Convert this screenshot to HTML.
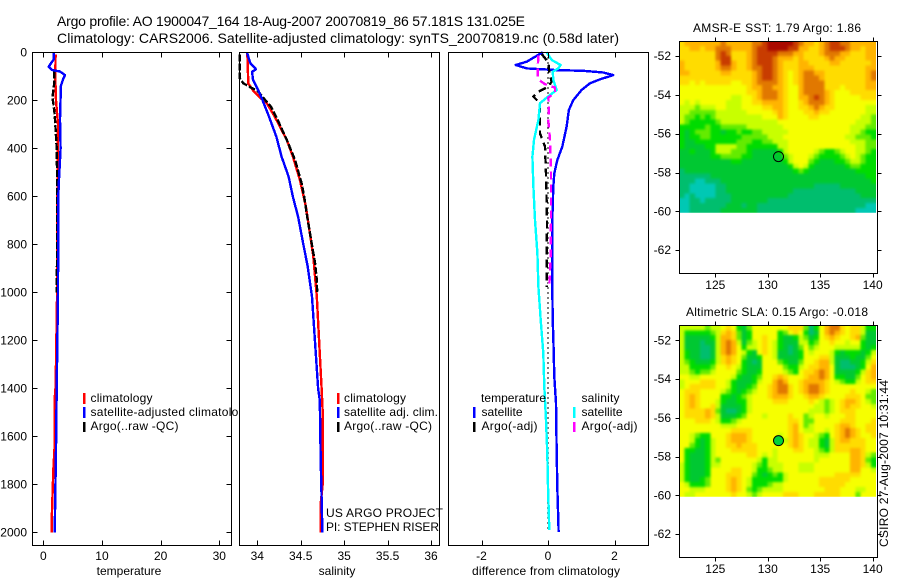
<!DOCTYPE html>
<html lang="en">
<head>
<meta charset="utf-8">
<title>Argo profile chart</title>
<style>
  html, body { margin: 0; padding: 0; background: #fff; }
  svg { display: block; font-family: "Liberation Sans", sans-serif; font-size: 12px; fill: #000; }
  .title { font-size: 14px; }
  .frame { fill: none; stroke: #000; stroke-width: 1; shape-rendering: crispEdges; }
  .bg { fill: #fff; stroke: none; }
  .tick { stroke: #000; stroke-width: 1; shape-rendering: crispEdges; }
  .line { fill: none; stroke-width: 2.4; shape-rendering: crispEdges; stroke-linejoin: round; }
  .cell { shape-rendering: crispEdges; }
</style>
</head>
<body>
<svg id="chart" xmlns="http://www.w3.org/2000/svg" width="900" height="580" viewBox="0 0 900 580">
  <defs>
    <filter id="soften" x="-5%" y="-5%" width="110%" height="110%" color-interpolation-filters="sRGB">
      <feGaussianBlur in="SourceGraphic" stdDeviation="1.3" result="blurred"/>
      <feMerge>
        <feMergeNode in="SourceGraphic"/>
        <feMergeNode in="blurred"/>
      </feMerge>
    </filter>
    <clipPath id="clip-sst"><rect x="679.5" y="41.5" width="196.5" height="171.2"/></clipPath>
    <clipPath id="clip-sla"><rect x="679.5" y="325.5" width="196.5" height="171.2"/></clipPath>
  </defs>
  <rect class="bg" x="0" y="0" width="900" height="580"/>
  <text class="title" x="57" y="26" textLength="468">Argo profile: AO 1900047_164 18-Aug-2007 20070819_86 57.181S 131.025E</text>
  <text class="title" x="57" y="43" textLength="562">Climatology: CARS2006. Satellite-adjusted climatology: synTS_20070819.nc (0.58d later)</text>

  <g id="panel-t">
    <rect class="bg" x="32" y="52" width="199" height="493"/>
    <g id="marks-t"></g>
    <rect class="frame" x="32.5" y="52.5" width="199" height="493"/>
    <g id="ticks-t"></g>
    <text x="129" y="575" text-anchor="middle">temperature</text>
    <g>
      <rect x="83" y="393" width="2.5" height="11" fill="#ff0000"/>
      <text x="90.5" y="402" textLength="62">climatology</text>
      <rect x="83" y="407" width="2.5" height="11" fill="#0000ff"/>
      <text x="90.5" y="416" textLength="161">satellite-adjusted climatology</text>
      <rect x="83" y="422" width="2.5" height="10" fill="#000"/>
      <text x="90.5" y="430" textLength="88">Argo(..raw -QC)</text>
    </g>
  </g>

  <g id="panel-s">
    <rect class="bg" x="240" y="52" width="199" height="493"/>
    <g id="marks-s"></g>
    <rect class="frame" x="239.5" y="52.5" width="200" height="493"/>
    <g id="ticks-s"></g>
    <text x="337" y="575" text-anchor="middle">salinity</text>
    <g>
      <rect x="337" y="393" width="2.5" height="11" fill="#ff0000"/>
      <text x="344" y="402" textLength="62">climatology</text>
      <rect x="337" y="407" width="2.5" height="11" fill="#0000ff"/>
      <text x="344" y="416" textLength="94">satellite adj. clim.</text>
      <rect x="337" y="422" width="2.5" height="10" fill="#000"/>
      <text x="344" y="430" textLength="88">Argo(..raw -QC)</text>
    </g>
    <text x="326" y="517" textLength="117">US ARGO PROJECT</text>
    <text x="326" y="531" textLength="113">PI: STEPHEN RISER</text>
  </g>

  <g id="panel-d">
    <rect class="bg" x="449" y="52" width="199" height="493"/>
    <g id="marks-d"></g>
    <rect class="frame" x="448.5" y="52.5" width="200" height="493"/>
    <g id="ticks-d"></g>
    <text x="472" y="575" textLength="148">difference from climatology</text>
    <g>
      <text x="481" y="402" textLength="65">temperature</text>
      <rect x="473" y="407" width="2.5" height="11" fill="#0000ff"/>
      <text x="481.5" y="416" textLength="41">satellite</text>
      <rect x="473" y="422" width="2.5" height="10" fill="#000"/>
      <text x="481.5" y="430" textLength="56">Argo(-adj)</text>
      <text x="581.5" y="402" textLength="38">salinity</text>
      <rect x="573" y="407" width="2.5" height="11" fill="#00ffff"/>
      <text x="581.5" y="416" textLength="41">satellite</text>
      <rect x="573" y="422" width="2.5" height="10" fill="#ff00ff"/>
      <text x="581.5" y="430" textLength="56">Argo(-adj)</text>
    </g>
  </g>

  <g id="map-sst">
    <text x="693" y="32" textLength="168">AMSR-E SST: 1.79 Argo: 1.86</text>
    <g clip-path="url(#clip-sst)">
      <g id="cells-sst" filter="url(#soften)"></g>
    </g>
    <rect class="frame" x="679.5" y="41.5" width="198" height="232"/>
    <g id="ticks-sst"></g>
    <circle id="pt-sst" r="5" fill="none" stroke="#000" stroke-width="1"/>
  </g>

  <g id="map-sla">
    <text x="686" y="316" textLength="182">Altimetric SLA: 0.15 Argo: -0.018</text>
    <g clip-path="url(#clip-sla)">
      <g id="cells-sla" filter="url(#soften)"></g>
    </g>
    <rect class="frame" x="679.5" y="325.5" width="198" height="232"/>
    <g id="ticks-sla"></g>
    <circle id="pt-sla" r="5" fill="#00d23c" stroke="#000" stroke-width="1"/>
  </g>

  <text transform="translate(888 547) rotate(-90)" textLength="167">CSIRO 27-Aug-2007 10:31:44</text>
</svg>

<script>
// Axis tick labels
var depthTicks = [0, 200, 400, 600, 800, 1000, 1200, 1400, 1600, 1800, 2000];
var tempTicks = [0, 10, 20, 30];
var salTicks = [34, 34.5, 35, 35.5, 36];
var salTickLabels = ['34', '34.5', '35', '35.5', '36'];
var diffTicks = [-2, 0, 2];
var lonTicks = [125, 130, 135, 140];
var latTicks = [-52, -54, -56, -58, -60, -62];

// Temperature profiles
var tempClimDepth = [10, 100, 200, 300, 500, 600, 1000, 1400, 1410, 1680, 1700, 1820, 1940, 2000];
var tempClimValues = [2.1, 2.05, 2.16, 2.5, 2.45, 2.4, 2.35, 2.1, 2.0, 1.9, 1.77, 1.6, 1.45, 1.43];
var tempSatDepth = [0, 30, 50, 60, 72, 75, 80, 95, 110, 140, 280, 400, 520, 600, 1000, 1400, 1650, 2000];
var tempSatValues = [1.82, 1.75, 1.2, 0.92, 1.4, 1.7, 2.85, 3.7, 3.4, 3.0, 2.85, 2.95, 2.7, 2.55, 2.5, 2.28, 2.17, 1.94];
var tempArgoDepth = [80, 130, 170, 190, 210, 260, 300, 400, 600, 800, 1000];
var tempArgoValues = [1.87, 1.85, 1.65, 1.55, 1.7, 1.95, 2.05, 2.28, 2.4, 2.35, 2.3];

// Salinity profiles
var salClimDepth = [0, 129, 157, 185, 213, 268, 365, 435, 532, 643, 740, 851, 1018, 1400, 1500, 1800, 1880, 2000];
var salClimValues = [33.885, 33.896, 33.947, 34.02, 34.11, 34.2, 34.34, 34.41, 34.49, 34.56, 34.6, 34.645, 34.685, 34.74, 34.753, 34.753, 34.73, 34.73];
var salSatDepth = [0, 46, 60, 71, 81, 115, 157, 199, 268, 352, 435, 518, 602, 685, 782, 893, 1018, 1400, 1450, 1700, 2000];
var salSatValues = [33.88, 33.92, 33.96, 33.985, 33.94, 33.95, 34.01, 34.06, 34.135, 34.22, 34.28, 34.36, 34.41, 34.47, 34.52, 34.58, 34.63, 34.70, 34.72, 34.73, 34.75];
var salArgoDepth = [10, 110, 129, 146, 163, 190, 226, 282, 365, 449, 546, 602, 685, 782, 879, 949, 1005];
var salArgoValues = [33.80, 33.80, 33.84, 33.92, 34.01, 34.07, 34.155, 34.235, 34.34, 34.435, 34.51, 34.54, 34.575, 34.62, 34.665, 34.685, 34.69];

// Differences from climatology
var diffTempSatDepth = [0, 39, 53, 67, 74, 77, 84, 95, 113, 129, 157, 199, 240, 310, 393, 449, 504, 560, 699, 977, 1115, 1185, 1352, 1462, 1643, 1810, 1949, 1998];
var diffTempSatValues = [-0.16, -0.64, -0.97, -0.64, 0.26, 1.06, 1.66, 1.96, 1.56, 1.26, 1.01, 0.76, 0.63, 0.56, 0.43, 0.28, 0.19, 0.16, 0.13, 0.13, 0.14, 0.16, 0.19, 0.24, 0.26, 0.28, 0.31, 0.32];
var diffSalSatDepth = [0, 32, 53, 67, 81, 115, 157, 178, 212, 282, 365, 435, 560, 699, 838, 977, 1115, 1254, 1393, 1532, 1671, 1810, 1990];
var diffSalSatValues = [-0.04, 0.11, 0.38, 0.31, 0.14, 0.16, 0.26, 0.06, -0.24, -0.29, -0.42, -0.47, -0.44, -0.39, -0.32, -0.29, -0.22, -0.14, -0.11, -0.06, -0.02, 0, 0.04];
var diffTempArgoDepth = [7, 42, 84, 122, 143, 164, 185, 212, 282, 338, 393, 504, 699, 977];
var diffTempArgoValues = [-0.19, 0.01, 0.04, 0.11, 0.01, -0.29, -0.44, -0.24, -0.24, -0.24, -0.09, -0.06, -0.03, -0.04];
var diffSalArgoDepth = [14, 63, 112, 133, 147, 168, 189, 224, 282, 365, 504, 699, 838, 977];
var diffSalArgoValues = [-0.29, -0.31, -0.3, -0.09, 0.21, 0.21, 0.01, 0.03, 0.01, 0.06, 0.09, 0.09, 0.08, 0.04];
var zeroLineDepth = [0, 2000];
var zeroLineValues = [0, 0];

// Profile location
var profileLon = 131.025;
var profileLat = -57.181;

// SST heatmap: colour level per cell, north to south, west to east
var sstGrid = [
[7,8,8,8,8,8,8,8,9,8,8,8,8,8,9,9,10,11,11,11,11,11,10,9,8,8,7,8,9,10,10,9,9,8,8,8,8,8],
[7,7,8,8,7,8,8,9,9,9,8,8,8,8,9,10,10,11,11,11,11,10,10,8,8,7,7,8,9,10,10,10,9,8,8,7,8,8],
[7,7,7,7,7,7,7,9,10,9,7,7,7,8,9,10,10,10,10,9,9,9,8,8,7,7,7,8,9,9,9,8,8,7,7,7,8,8],
[7,7,7,7,7,7,7,9,10,10,7,7,7,8,9,10,10,10,9,8,8,8,7,8,7,7,7,7,8,9,8,8,7,7,7,7,8,8],
[8,7,7,7,7,7,7,8,10,10,8,7,7,8,9,10,10,10,9,8,7,7,7,8,8,7,7,7,7,8,8,7,7,7,7,7,7,8],
[8,7,7,7,7,7,7,8,9,9,8,7,7,8,9,9,10,10,9,8,7,7,7,8,8,8,7,7,7,7,7,7,7,7,7,7,8,8],
[8,8,7,7,7,7,7,7,8,8,7,7,7,7,8,9,10,10,9,8,7,6,7,8,9,9,8,8,7,7,7,7,7,7,7,7,8,9],
[7,7,7,7,7,7,7,7,7,7,7,7,7,7,8,9,10,10,9,8,7,6,7,8,9,9,9,8,7,7,7,7,7,7,7,7,8,9],
[7,7,6,7,6,7,7,7,7,7,6,6,7,7,8,9,9,9,9,8,7,6,7,8,9,9,9,9,7,7,7,7,7,7,7,7,8,8],
[6,6,6,6,6,6,6,6,6,6,6,6,6,7,8,8,9,9,8,8,7,6,6,8,9,9,9,9,7,7,7,6,7,7,7,7,8,8],
[6,6,6,6,6,6,6,6,6,6,6,6,6,7,7,8,9,9,9,8,7,6,6,8,9,9,9,9,8,7,6,6,6,7,7,7,7,7],
[6,6,6,6,6,6,6,6,6,6,5,5,6,6,7,8,9,9,9,8,7,6,6,8,8,9,10,9,8,7,6,6,6,6,6,7,7,7],
[6,5,6,5,6,6,6,6,6,5,5,5,6,6,7,7,8,8,8,8,7,6,6,7,8,9,9,9,8,7,6,6,6,6,6,6,6,6],
[5,5,5,4,5,5,5,6,6,5,5,5,6,6,6,6,7,7,8,8,7,6,6,7,7,8,9,8,7,7,6,6,6,6,6,6,5,5],
[5,5,4,4,4,4,4,5,5,5,5,5,5,6,6,6,6,6,7,8,7,6,6,6,7,7,8,7,7,6,6,6,6,6,6,6,5,5],
[5,4,4,3,4,3,4,5,5,5,5,5,5,5,5,5,6,6,6,8,7,6,6,6,6,7,7,6,6,6,6,6,6,6,6,5,5,4],
[5,4,3,3,3,3,3,4,5,5,5,5,5,5,5,5,5,5,5,6,6,6,6,6,6,6,6,6,6,6,6,6,6,6,5,5,5,4],
[3,3,3,3,3,4,3,3,4,4,4,4,4,5,5,5,5,5,5,5,6,6,6,6,6,6,6,6,6,6,6,6,6,5,5,5,4,4],
[3,2,3,4,4,4,3,3,2,3,3,4,3,3,4,4,5,5,5,5,5,6,6,6,6,6,6,6,6,6,6,6,6,5,5,4,3,3],
[3,2,3,3,4,4,3,3,3,3,3,3,4,4,4,4,4,5,5,5,6,6,6,6,6,6,6,6,6,6,6,6,5,5,4,4,4,3],
[3,2,2,3,3,3,3,3,3,3,3,4,4,4,3,3,4,4,5,5,5,6,6,6,6,6,6,6,6,6,6,6,6,5,5,5,4,4],
[3,2,2,2,2,3,3,5,5,5,5,4,4,3,3,3,3,3,3,5,5,6,6,6,6,6,6,6,6,6,6,6,6,6,5,5,4,4],
[2,2,3,2,2,2,3,5,5,5,4,4,4,3,2,2,2,2,2,3,5,6,6,6,6,6,5,4,3,3,4,5,6,6,5,5,4,3],
[2,2,2,2,2,2,3,3,4,4,4,4,3,3,2,2,2,2,2,2,4,5,6,6,6,5,4,3,3,3,3,4,5,6,5,4,3,3],
[2,2,2,2,2,2,2,2,2,2,3,3,2,2,2,2,2,2,2,2,3,5,6,6,6,4,3,2,2,2,3,3,4,5,5,4,3,3],
[2,2,2,2,2,2,2,2,2,2,2,2,2,2,2,2,2,2,2,2,2,3,5,6,5,3,2,2,2,2,2,2,3,4,4,3,3,3],
[1,2,2,2,2,2,2,2,2,2,2,2,2,2,2,2,2,2,2,2,2,2,3,4,3,2,2,2,2,2,2,2,2,2,3,3,3,3],
[1,1,1,1,1,1,2,2,2,2,2,2,2,2,2,2,2,2,2,2,2,2,2,2,2,2,2,2,2,2,2,2,2,2,2,2,3,3],
[1,1,1,0,0,1,1,1,2,2,2,2,2,2,2,2,2,2,2,2,2,2,2,2,2,2,2,2,2,2,2,2,2,2,2,2,2,3],
[1,1,0,0,0,0,0,1,1,2,2,2,2,2,2,2,2,2,2,2,2,2,2,2,2,2,1,1,1,1,1,2,2,2,2,2,2,2],
[1,1,0,0,0,0,0,1,1,2,2,2,2,2,2,2,2,2,2,2,2,2,1,1,1,1,1,1,1,1,1,1,1,1,2,2,2,2],
[1,0,1,0,0,0,0,1,1,1,2,2,2,2,2,2,2,2,2,2,2,1,1,1,1,1,1,1,1,1,1,1,1,1,1,2,2,2],
[0,0,1,1,0,1,1,1,1,1,2,2,2,2,2,2,2,1,1,1,1,1,1,1,1,1,1,1,1,1,1,1,1,1,1,1,1,1],
[0,0,1,1,1,1,1,1,1,2,2,2,1,2,2,1,1,1,1,1,1,1,1,1,1,1,1,1,1,1,1,1,1,1,1,1,0,0],
[0,0,1,1,1,1,1,1,2,2,2,2,2,2,2,1,1,1,1,1,1,1,1,1,1,1,1,1,1,1,1,1,1,1,0,0,0,0]
];

// Sea level anomaly heatmap: colour level per cell
var slaGrid = [
[5,5,5,5,5,4,5,5,6,7,6,3,2,4,6,6,6,6,6,6,6,7,7,7,4,1,3,6,8,9,9,7,6,7,7,5,3,3],
[5,3,3,3,3,3,4,5,7,8,7,4,2,3,6,6,6,6,6,3,4,6,7,6,3,1,2,6,8,9,8,7,6,7,7,5,2,2],
[5,2,2,2,2,2,3,5,8,8,7,4,2,3,6,6,7,6,6,3,2,2,3,5,4,2,3,6,7,8,7,6,6,7,8,4,2,2],
[5,2,2,2,1,2,2,5,8,9,8,5,2,4,5,6,7,6,5,3,2,2,2,5,5,3,4,6,6,7,6,6,5,6,6,3,2,2],
[5,2,2,2,1,1,2,5,8,9,8,6,3,5,5,6,7,6,5,3,2,1,2,4,6,4,5,6,6,6,5,5,5,5,5,3,2,3],
[5,3,2,2,1,1,2,5,8,9,8,6,5,3,2,6,7,6,5,2,2,1,2,3,6,5,6,6,6,5,3,2,3,3,3,2,3,5],
[5,3,2,2,1,1,2,5,7,8,7,6,4,2,2,3,6,6,5,2,2,2,2,3,6,6,6,7,7,5,2,2,2,3,2,2,4,6],
[5,4,3,2,2,2,3,5,7,8,7,6,3,2,1,2,6,6,6,4,3,2,2,4,6,6,7,8,8,5,2,1,1,2,2,3,5,7],
[5,5,3,3,3,3,4,6,6,7,6,5,3,2,2,2,6,6,6,6,4,3,3,5,6,7,7,8,8,6,2,1,1,1,2,3,6,8],
[5,5,4,3,4,4,5,6,6,6,6,4,3,2,2,3,6,6,6,6,5,4,3,6,7,7,8,9,8,6,2,2,2,2,3,5,7,8],
[6,6,5,5,6,6,6,6,6,6,5,3,2,2,3,4,6,6,7,8,7,6,6,6,7,8,8,9,8,6,3,3,2,2,4,6,7,8],
[5,6,6,6,7,7,7,6,6,5,3,2,2,2,3,5,6,6,8,9,8,6,6,7,8,8,8,8,7,6,5,4,3,3,5,6,7,7],
[5,6,7,7,7,7,7,6,6,5,3,2,2,3,4,6,6,7,8,9,9,7,6,7,8,9,9,8,7,6,6,6,6,6,6,6,6,6],
[6,7,7,7,6,6,6,6,5,4,3,2,3,4,5,6,6,7,8,9,9,7,6,7,8,9,9,8,7,6,6,6,6,7,6,6,5,4],
[6,7,8,7,6,6,6,6,3,3,2,3,4,5,6,6,6,7,8,8,8,7,6,6,7,8,8,7,6,6,6,6,7,7,7,6,4,4],
[6,7,8,7,6,6,6,5,3,2,2,3,3,5,6,6,6,6,7,7,7,6,6,6,6,7,6,5,4,5,6,7,8,8,7,6,5,4],
[6,7,8,7,6,6,7,5,2,2,2,2,3,5,6,6,6,6,6,6,6,6,6,6,6,6,5,5,4,5,6,7,8,7,7,6,6,5],
[6,7,7,7,7,8,7,4,2,1,1,2,3,5,6,6,6,6,6,6,6,6,6,6,6,5,5,5,4,5,6,7,7,7,6,6,6,6],
[6,7,7,7,7,8,7,5,2,2,2,3,4,6,6,6,5,6,6,6,6,7,6,6,4,5,6,6,5,6,6,6,7,7,6,6,6,6],
[6,6,6,7,7,7,6,5,3,3,4,5,6,6,6,6,6,6,6,6,6,7,7,6,4,4,6,6,6,6,6,7,7,7,6,6,6,7],
[6,6,6,6,6,6,6,6,5,5,5,6,6,6,6,6,6,6,6,6,6,7,8,6,4,5,6,6,6,6,7,8,8,7,6,6,7,7],
[6,6,6,6,6,6,6,6,6,6,7,7,7,7,6,6,6,6,6,6,6,7,8,6,5,5,6,6,5,6,7,8,9,8,7,6,7,7],
[6,6,5,4,3,3,6,6,6,7,8,8,8,7,6,6,6,6,6,5,6,7,8,7,6,6,5,4,3,6,7,8,9,8,7,6,6,7],
[6,6,5,3,2,3,5,6,6,7,8,8,8,7,6,6,6,6,6,5,5,7,8,7,6,5,5,3,2,5,7,8,8,7,7,7,6,6],
[6,6,4,3,2,3,5,6,6,7,7,8,7,7,7,6,6,6,6,6,6,7,8,7,6,5,5,3,2,5,7,7,7,7,7,7,6,6],
[6,3,3,2,2,3,5,6,6,6,7,7,7,7,7,6,6,6,5,6,6,6,7,7,6,6,5,4,3,5,7,7,7,8,8,7,6,6],
[6,3,2,2,2,3,5,6,6,6,6,6,6,7,7,6,5,6,5,6,6,6,6,6,6,6,5,5,5,6,6,6,6,8,8,7,5,4],
[6,3,2,2,2,3,5,4,6,6,6,6,6,6,6,5,3,5,5,6,6,6,6,6,6,6,5,6,6,6,6,6,6,8,8,7,4,3],
[5,3,2,2,2,3,5,5,6,6,6,6,6,6,5,4,3,5,5,5,6,6,6,5,5,5,6,6,6,6,6,6,6,8,8,7,5,3],
[5,3,2,2,2,3,6,6,6,6,7,7,6,6,5,3,3,4,5,5,6,6,6,5,5,5,6,6,6,6,6,6,6,8,8,6,6,5],
[5,3,2,2,2,3,6,6,6,7,7,7,6,6,4,3,2,3,4,3,5,6,6,6,6,6,6,6,6,6,7,7,7,7,7,6,6,6],
[5,3,2,2,3,4,6,6,6,7,8,7,6,5,3,3,3,3,3,3,5,6,6,6,6,6,6,7,7,7,7,7,7,6,6,6,6,6],
[6,5,3,3,3,4,6,6,6,7,8,7,6,5,3,3,3,4,5,5,6,6,6,6,6,6,6,7,7,7,7,7,6,6,6,6,6,6],
[6,6,5,5,5,6,6,6,6,7,8,7,6,4,3,4,5,5,5,5,6,6,6,6,6,6,6,6,7,7,7,6,6,6,5,5,6,6],
[6,5,5,6,6,6,6,6,6,6,7,6,6,5,4,5,6,6,6,6,7,7,7,6,6,6,7,7,7,7,7,6,6,6,4,6,6,6]
];

var NS = 'http://www.w3.org/2000/svg';
var levelColors = ['#00c8b4', '#00be6e', '#00c832', '#00dc00', '#64eb00', '#c8ff00', '#f6ff00', '#ffdc00', '#ffb400', '#e17800', '#c83c00', '#aa0a00'];

// Axis functions
function yDepth(d) { return 52.3 + d * 0.24; }
function xTemp(t) { return 43.3 + t * 5.867; }
function xSal(s) { return 257.3 + (s - 34) * 86.85; }
function xDiff(v) { return 548 + v * 33.25; }
function xLon(lon) { return 715.3 + (lon - 125) * 10.49; }
function yLatTop(lat) { return 56 + (-52 - lat) * 19.42; }
function yLatBottom(lat) { return 340.3 + (-52 - lat) * 19.37; }

function drawProfile(parent, name, depths, values, xFn, color, dash, width) {
  var pts = [];
  for (var i = 0; i < depths.length; i++) {
    pts.push(xFn(values[i]).toFixed(1) + ',' + yDepth(depths[i]).toFixed(1));
  }
  var el = document.createElementNS(NS, 'polyline');
  el.setAttribute('class', 'line');
  el.setAttribute('points', pts.join(' '));
  el.setAttribute('stroke', color);
  if (dash) { el.setAttribute('stroke-dasharray', dash); }
  if (width) { el.setAttribute('stroke-width', width); }
  
  
  parent.appendChild(el);
}

function tick(parent, x1, y1, x2, y2) {
  var el = document.createElementNS(NS, 'line');
  el.setAttribute('class', 'tick');
  el.setAttribute('x1', x1);
  el.setAttribute('y1', y1);
  el.setAttribute('x2', x2);
  el.setAttribute('y2', y2);
  
  
  parent.appendChild(el);
}

function label(parent, x, y, anchor, str) {
  var el = document.createElementNS(NS, 'text');
  el.setAttribute('x', x);
  el.setAttribute('y', y);
  el.setAttribute('text-anchor', anchor);
  
  
  el.textContent = str;
  parent.appendChild(el);
}

function xAxis(parent, ticks, labels, xFn) {
  for (var i = 0; i < ticks.length; i++) {
    var x = Math.round(xFn(ticks[i])) + 0.5;
    tick(parent, x, 52.5, x, 57.5);
    tick(parent, x, 545.5, x, 540.5);
    label(parent, xFn(ticks[i]), 560, 'middle', labels[i]);
  }
}

function drawHeatmap(parent, grid, latFn, cellName) {
  var lonW = 121.57, lonE = 140.32, latN = -51.23, latS = -60.08;
  var rows = grid.length;
  for (var r = 0; r < rows; r++) {
    var cols = grid[r].length;
    for (var c = 0; c < cols; c++) {
      var x0 = xLon(lonW + (lonE - lonW) * c / cols);
      var x1 = xLon(lonW + (lonE - lonW) * (c + 1) / cols);
      var y0 = latFn(latN + (latS - latN) * r / rows);
      var y1 = latFn(latN + (latS - latN) * (r + 1) / rows);
      var el = document.createElementNS(NS, 'rect');
      el.setAttribute('class', 'cell');
      el.setAttribute('x', x0.toFixed(2));
      el.setAttribute('y', y0.toFixed(2));
      el.setAttribute('width', (x1 - x0 + 0.4).toFixed(2));
      el.setAttribute('height', (y1 - y0 + 0.4).toFixed(2));
      el.setAttribute('fill', levelColors[grid[r][c]]);
      
      
      parent.appendChild(el);
    }
  }
}

function mapAxes(parent, latFn, top, bottom, labelY) {
  for (var i = 0; i < lonTicks.length; i++) {
    var x = Math.round(xLon(lonTicks[i])) + 0.5;
    tick(parent, x, top, x, top - 4);
    tick(parent, x, bottom, x, bottom + 4);
    label(parent, xLon(lonTicks[i]), labelY, 'middle', String(lonTicks[i]));
  }
  for (var j = 0; j < latTicks.length; j++) {
    var y = Math.round(latFn(latTicks[j])) + 0.5;
    tick(parent, 679.5, y, 675.5, y);
    tick(parent, 877.5, y, 881.5, y);
    label(parent, 671, latFn(latTicks[j]) + 4, 'end', String(latTicks[j]));
  }
}

// Temperature panel
var marksT = document.getElementById('marks-t');
drawProfile(marksT, 'temperature-climatology-line', tempClimDepth, tempClimValues, xTemp, '#ff0000', null, 2.6);
drawProfile(marksT, 'temperature-argo-line', tempArgoDepth, tempArgoValues, xTemp, '#000000', '7 2', 2.8);
drawProfile(marksT, 'temperature-satellite-line', tempSatDepth, tempSatValues, xTemp, '#0000ff', null, 2.4);
var ticksT = document.getElementById('ticks-t');
xAxis(ticksT, tempTicks, tempTicks.map(String), xTemp);
for (var a = 0; a < depthTicks.length; a++) {
  var ty = Math.round(yDepth(depthTicks[a])) + 0.5;
  tick(ticksT, 32.5, ty, 37.5, ty);
  tick(ticksT, 231.5, ty, 226.5, ty);
  label(ticksT, 27, yDepth(depthTicks[a]) + 4, 'end', String(depthTicks[a]));
}

// Salinity panel
var marksS = document.getElementById('marks-s');
drawProfile(marksS, 'salinity-climatology-line', salClimDepth, salClimValues, xSal, '#ff0000', null, 2.6);
drawProfile(marksS, 'salinity-argo-line', salArgoDepth, salArgoValues, xSal, '#000000', '7 2', 2.8);
drawProfile(marksS, 'salinity-satellite-line', salSatDepth, salSatValues, xSal, '#0000ff', null, 2.4);
xAxis(document.getElementById('ticks-s'), salTicks, salTickLabels, xSal);

// Difference panel
var marksD = document.getElementById('marks-d');
drawProfile(marksD, 'zero-reference-line', zeroLineDepth, zeroLineValues, xDiff, '#000000', '1 4', 1);
drawProfile(marksD, 'difference-temp-satellite-line', diffTempSatDepth, diffTempSatValues, xDiff, '#0000ff', null, 2.2);
drawProfile(marksD, 'difference-temp-argo-line', diffTempArgoDepth, diffTempArgoValues, xDiff, '#000000', '8 5', 2.6);
drawProfile(marksD, 'difference-sal-satellite-line', diffSalSatDepth, diffSalSatValues, xDiff, '#00ffff', null, 2.2);
drawProfile(marksD, 'difference-sal-argo-line', diffSalArgoDepth, diffSalArgoValues, xDiff, '#ff00ff', '8 5', 2.6);
xAxis(document.getElementById('ticks-d'), diffTicks, diffTicks.map(String), xDiff);

// Maps
drawHeatmap(document.getElementById('cells-sst'), sstGrid, yLatTop, 'sst-cell');
mapAxes(document.getElementById('ticks-sst'), yLatTop, 41.5, 273.5, 289);
var ptSst = document.getElementById('pt-sst');
ptSst.setAttribute('cx', xLon(profileLon));
ptSst.setAttribute('cy', yLatTop(profileLat));

drawHeatmap(document.getElementById('cells-sla'), slaGrid, yLatBottom, 'sla-cell');
mapAxes(document.getElementById('ticks-sla'), yLatBottom, 325.5, 557.5, 573);
var ptSla = document.getElementById('pt-sla');
ptSla.setAttribute('cx', xLon(profileLon));
ptSla.setAttribute('cy', yLatBottom(profileLat));
</script>
</body>
</html>
